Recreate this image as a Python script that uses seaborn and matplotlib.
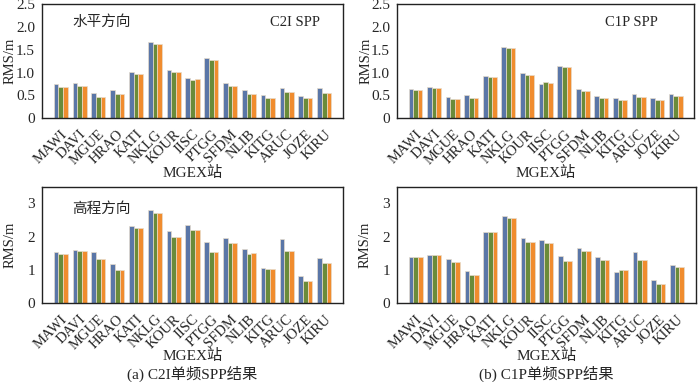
import numpy as np
import pandas as pd
import matplotlib
matplotlib.use("Agg")
import matplotlib.pyplot as plt
import seaborn as sns

# -------------------------------
# DATA
# -------------------------------
stations = ["MAWI", "DAVI", "MGUE", "HRAO", "KATI", "NKLG", "KOUR", "IISC",
            "PTGG", "SFDM", "NLIB", "KITG", "ARUC", "JOZE", "KIRU"]
series = ["s1", "s2", "s3"]

# C2I, horizontal
c2i_hor_1 = [0.74, 0.77, 0.55, 0.61, 1.02, 1.67, 1.06, 0.88, 1.32, 0.78, 0.61, 0.50, 0.65, 0.49, 0.65]
c2i_hor_2 = [0.68, 0.71, 0.47, 0.52, 0.97, 1.63, 1.01, 0.84, 1.28, 0.71, 0.53, 0.44, 0.57, 0.43, 0.56]
c2i_hor_3 = [0.68, 0.71, 0.47, 0.52, 0.97, 1.63, 1.01, 0.85, 1.28, 0.71, 0.53, 0.44, 0.57, 0.43, 0.56]

# C1P, horizontal
c1p_hor_1 = [0.64, 0.68, 0.46, 0.50, 0.93, 1.56, 1.00, 0.74, 1.14, 0.63, 0.49, 0.43, 0.52, 0.44, 0.52]
c1p_hor_2 = [0.62, 0.67, 0.41, 0.45, 0.91, 1.53, 0.95, 0.79, 1.13, 0.59, 0.44, 0.40, 0.47, 0.40, 0.49]
c1p_hor_3 = [0.62, 0.67, 0.41, 0.45, 0.91, 1.53, 0.95, 0.78, 1.13, 0.59, 0.44, 0.40, 0.47, 0.40, 0.49]

# C2I, vertical
c2i_ver_1 = [1.54, 1.61, 1.53, 1.17, 2.33, 2.79, 2.18, 2.34, 1.84, 1.97, 1.64, 1.06, 1.92, 0.82, 1.36]
c2i_ver_2 = [1.48, 1.55, 1.31, 0.98, 2.25, 2.71, 2.00, 2.19, 1.52, 1.82, 1.48, 1.03, 1.58, 0.66, 1.21]
c2i_ver_3 = [1.48, 1.55, 1.31, 0.98, 2.25, 2.71, 2.00, 2.19, 1.52, 1.82, 1.49, 1.02, 1.58, 0.66, 1.21]

# C1P, vertical
c1p_ver_1 = [1.37, 1.44, 1.32, 0.96, 2.13, 2.63, 1.96, 1.90, 1.42, 1.67, 1.38, 0.93, 1.53, 0.70, 1.15]
c1p_ver_2 = [1.39, 1.45, 1.23, 0.85, 2.15, 2.57, 1.85, 1.81, 1.26, 1.57, 1.28, 0.99, 1.29, 0.57, 1.08]
c1p_ver_3 = [1.39, 1.45, 1.23, 0.85, 2.15, 2.57, 1.85, 1.81, 1.26, 1.57, 1.28, 0.98, 1.29, 0.57, 1.08]

colors = ["#5a76a7", "#6a8b3a", "#f08c2e"]


def to_long(a, b, c):
    return pd.DataFrame({
        "station": stations * 3,
        "series": [series[0]] * 15 + [series[1]] * 15 + [series[2]] * 15,
        "rms": list(a) + list(b) + list(c),
    })


def draw(ax, df, ymax, yticks, ylabels, left_text=None, right_text=None,
         rt_x=0.75, txt_y=0.84, xlab_y=-0.42):
    sns.barplot(data=df, x="station", y="rms", hue="series", palette=colors,
                width=0.75, ax=ax, legend=False, edgecolor="#e6dccd", linewidth=0.5,
                saturation=1)
    ax.set_xlim(-1, 15)
    ax.set_ylim(0, ymax)
    ax.set_yticks(yticks)
    ax.set_yticklabels(ylabels, fontsize=11)
    ax.set_xticks(range(15))
    ax.set_xticklabels(stations, rotation=45, ha="right", rotation_mode="anchor", fontsize=10.5)
    ax.tick_params(axis="both", direction="out", length=3, width=0.8, pad=2)
    ax.tick_params(axis="x", pad=4)
    ax.set_xlabel("MGEX站", fontsize=11)
    ax.set_ylabel("RMS/m", fontsize=10.5)
    ax.xaxis.set_label_coords(0.5, xlab_y)
    ax.yaxis.set_label_coords(-0.083, 0.5)
    for s in ax.spines.values():
        s.set_color("#222222")
        s.set_linewidth(1.0)
    if left_text:
        ax.text(0.1, txt_y, left_text, transform=ax.transAxes, fontsize=10.5, va="center")
    if right_text:
        ax.text(rt_x, txt_y, right_text, transform=ax.transAxes, fontsize=10.5, va="center")


fig = plt.figure(figsize=(7.0, 3.82), dpi=100)
sns.set_style("white")
plt.rcParams["font.family"] = ["Liberation Serif", "Noto Sans CJK SC"]
plt.rcParams["axes.unicode_minus"] = False

ax1 = fig.add_axes([0.060, 0.691, 0.430, 0.298])
ax2 = fig.add_axes([0.567, 0.691, 0.425, 0.298])
ax3 = fig.add_axes([0.060, 0.207, 0.430, 0.304])
ax4 = fig.add_axes([0.567, 0.207, 0.427, 0.304])

top_ticks = [0, 0.5, 1.0, 1.5, 2.0, 2.5]
top_labels = ["0", "0.5", "1.0", "1.5", "2.0", "2.5"]
bot_ticks = [0, 1, 2, 3]
bot_labels = ["0", "1", "2", "3"]

draw(ax1, to_long(c2i_hor_1, c2i_hor_2, c2i_hor_3), 2.5, top_ticks, top_labels,
     "水平方向", "C2I SPP", rt_x=0.757, txt_y=0.84, xlab_y=-0.42)
draw(ax2, to_long(c1p_hor_1, c1p_hor_2, c1p_hor_3), 2.5, top_ticks, top_labels,
     None, "C1P SPP", rt_x=0.70, txt_y=0.84, xlab_y=-0.42)
draw(ax3, to_long(c2i_ver_1, c2i_ver_2, c2i_ver_3), 3.5, bot_ticks, bot_labels,
     "高程方向", None, txt_y=0.81, xlab_y=-0.40)
draw(ax4, to_long(c1p_ver_1, c1p_ver_2, c1p_ver_3), 3.5, bot_ticks, bot_labels,
     xlab_y=-0.40)

fig.text(0.275, 0.021, "(a) C2I单频SPP结果", ha="center", va="center", fontsize=11)
fig.text(0.78, 0.021, "(b) C1P单频SPP结果", ha="center", va="center", fontsize=11)

fig.savefig("out.png", dpi=100)
